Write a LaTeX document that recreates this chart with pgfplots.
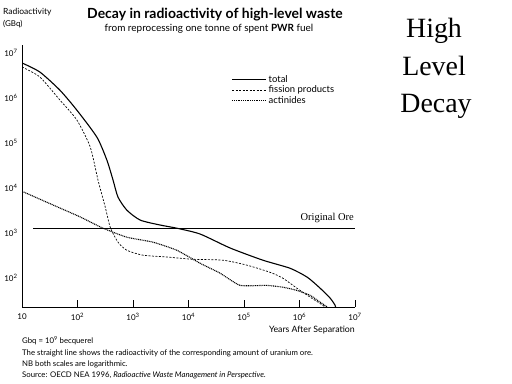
\documentclass[border=0pt]{standalone}
\usepackage{fontspec}
\setmainfont{Lato}
\newfontfamily\seriffont{Liberation Serif}
\usepackage{pgfplots}
\pgfplotsset{compat=1.18}
\begin{document}
\begin{tikzpicture}
\useasboundingbox (0,0) rectangle (512bp,-384bp);
\begin{axis}[
  at={(22bp,-307bp)}, anchor=south west,
  scale only axis, width=333bp, height=262bp,
  xmode=log, ymode=log,
  xmin=10, xmax=1e7, ymin=22.9, ymax=1.51e7,
  axis lines*=left,
  axis line style={line width=0.8pt},
  xminorticks=false, yminorticks=false,
  xtick={10,100,1000,10000,100000,1000000,10000000},
  xticklabels={10,10\textsuperscript{2},10\textsuperscript{3},10\textsuperscript{4},10\textsuperscript{5},10\textsuperscript{6},10\textsuperscript{7}},
  ytick={100,1000,10000,100000,1000000,10000000},
  yticklabels={10\textsuperscript{2},10\textsuperscript{3},10\textsuperscript{4},10\textsuperscript{5},10\textsuperscript{6},10\textsuperscript{7}},
  tick align=inside, major tick length=7bp,
  ytick style={draw=none},
  xtick style={black, line width=0.6pt},
  tick label style={font=\fontsize{8}{9}\selectfont},
  xticklabel style={yshift=-3bp},
  yticklabel style={xshift=-1bp},
  legend style={at={(0.62,0.90)}, anchor=north west, draw=none, fill=none,
    font=\fontsize{9.5}{10}\selectfont, row sep=-2bp},
  legend cell align=left,
  legend image code/.code={\draw[#1] (0bp,0bp) -- (34bp,0bp);},
]
\addplot[black, line width=1.1pt, smooth, tension=0.4] coordinates {
(10,6.03e6) (20.9,3.80e6) (47.9,1.51e6) (97.7,5.37e5) (224,1.35e5) (339,4.17e4)
(437,1.51e4) (537,6310) (776,3236) (1349,1950) (3090,1514) (6166,1288) (16218,955)
(56234,468) (218776,251) (676083,166) (1.38e6,105) (2.34e6,60.3) (3.55e6,36.3) (4.37e6,25.1) (4.6e6,20)
};
\addlegendentry{total}
\addplot[black, line width=0.7pt, dash pattern=on 2bp off 1.5bp, smooth, tension=0.4] coordinates {
(10,4.90e6) (20.9,2.95e6) (47.9,9.12e5) (97.7,3.24e5) (170,8.13e4) (234,1.51e4)
(316,3802) (389,1349) (537,631) (776,417) (1514,324) (4074,295) (12023,263)
(41687,251) (112202,195) (295121,135) (501187,100) (891251,60.3) (1.55e6,38.0)
(2.34e6,27.5) (2.88e6,22.9) (3.1e6,20)
};
\addlegendentry{fission products}
\addplot[black, line width=1.1pt, dash pattern=on 1bp off 0.8bp, smooth, tension=0.3] coordinates {
(10,8511) (47.9,3631) (112,2291) (288,1288) (776,813) (2291,631) (6166,417)
(16218,214) (37154,129) (85114,69.2) (257040,69.2) (501187,63.1) (891251,53.7)
(1.55e6,41.7) (2.34e6,29.5) (3.16e6,22.9) (3.4e6,20)
};
\addlegendentry{actinides}
\addplot[black, line width=0.8pt, forget plot] coordinates {(15.8,1288) (1e7,1288)};
\end{axis}
% titles and notes
\node[anchor=base west, font=\fontsize{8.5}{9}\selectfont, inner sep=0pt] at (3bp,-14bp) {Radioactivity};
\node[anchor=base west, font=\fontsize{8}{9}\selectfont, inner sep=0pt] at (3bp,-26bp) {(GBq)};
\node[anchor=base, font=\fontsize{14}{16}\selectfont\bfseries, inner sep=0pt] at (215bp,-18bp) {Decay in radioactivity of high-level waste};
\node[anchor=base, font=\fontsize{10}{12}\selectfont, inner sep=0pt] at (209bp,-31bp) {from reprocessing one tonne of spent \textbf{PWR} fuel};
\node[anchor=base east, font=\seriffont\fontsize{10.5}{12}\selectfont, inner sep=0pt] at (354bp,-220bp) {Original Ore};
\node[anchor=base east, font=\fontsize{8.8}{10}\selectfont, inner sep=0pt] at (355bp,-332bp) {Years After Separation};
\node[anchor=base west, font=\fontsize{7.8}{9}\selectfont, inner sep=0pt] at (22bp,-343bp) {Gbq = 10\textsuperscript{9} becquerel};
\node[anchor=base west, font=\fontsize{7.8}{9}\selectfont, inner sep=0pt] at (22bp,-355bp) {The straight line shows the radioactivity of the corresponding amount of uranium ore.};
\node[anchor=base west, font=\fontsize{7.8}{9}\selectfont, inner sep=0pt] at (22bp,-366bp) {NB both scales are logarithmic.};
\node[anchor=base west, font=\fontsize{7.8}{9}\selectfont, inner sep=0pt] at (22bp,-377bp) {Source: OECD NEA 1996, \textit{Radioactive Waste Management in Perspective}.};
\node[anchor=base, font=\seriffont\fontsize{28}{30}\selectfont, inner sep=0pt] at (434bp,-37bp) {High};
\node[anchor=base, font=\seriffont\fontsize{28}{30}\selectfont, inner sep=0pt] at (434bp,-75bp) {Level};
\node[anchor=base, font=\seriffont\fontsize{28}{30}\selectfont, inner sep=0pt] at (436bp,-112bp) {Decay};
\end{tikzpicture}
\end{document}
